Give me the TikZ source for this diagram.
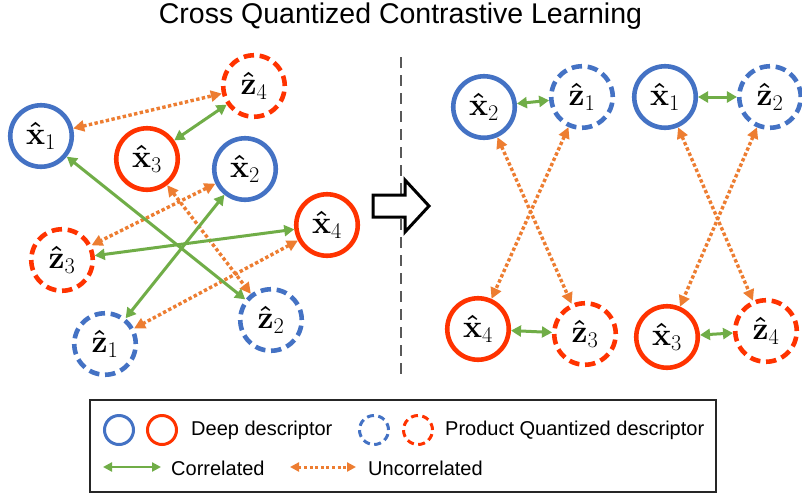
\RequirePackage{fix-cm}
\documentclass[tikz,border=0pt]{standalone}
\usepackage{amsmath}
\usepackage{fontspec}
\newfontfamily\legendfont{Liberation Sans}
\usetikzlibrary{arrows.meta}

\definecolor{deepblue}{HTML}{4472C4}
\definecolor{deepred}{HTML}{FF3300}
\definecolor{corgreen}{HTML}{70AD47}
\definecolor{uncorange}{HTML}{ED7D31}

% node labels
\newcommand\xh[1]{$\boldsymbol{\hat{\mathbf{x}}}_{#1}$}
\newcommand\zh[1]{$\boldsymbol{\hat{\mathbf{z}}}_{#1}$}

\begin{document}
\begin{tikzpicture}[x=1pt,y=-1pt,
  desc/.style={circle, draw, line width=4.6pt, minimum size=61.5pt, inner sep=0pt,
               font=\fontsize{32}{36}\selectfont},
  pq/.style={desc, dash pattern=on 10.4pt off 5.7pt},
  blu/.style={draw=deepblue},
  rd/.style={draw=deepred},
  smalldesc/.style={circle, draw, line width=3pt, minimum size=29pt, inner sep=0pt},
  smallpq/.style={smalldesc, dash pattern=on 7pt off 4.4pt},
  cor/.style={draw=corgreen, line width=3pt,
              {Triangle[length=10pt,width=11pt]}-{Triangle[length=10pt,width=11pt]}},
  unc/.style={draw=uncorange, line width=3.4pt, dash pattern=on 3.4pt off 2.4pt,
              {Triangle[length=11pt,width=11pt]}-{Triangle[length=11pt,width=11pt]}},
  legtext/.style={font=\legendfont\fontsize{20}{24}\selectfont, anchor=base west, inner sep=0pt},
]
\useasboundingbox (0,0) rectangle (802,496);
\fill[white] (0,0) rectangle (802,496);

% title
\node[font=\legendfont\fontsize{28.5}{32}\selectfont, anchor=base, inner sep=0pt]
  (title) at (400.5,23.5) {Cross Quantized Contrastive Learning};

% separator
\coordinate (sepTop) at (401,57);
\coordinate (sepBot) at (401,378);
\draw[black!65, line width=2pt, dash pattern=on 11pt off 7pt] (sepTop) -- (sepBot);

% block arrow
\draw[black, fill=white, line width=3pt, miter limit=10]
  (373,195) -- (405,195) -- (405,180) -- (429,206) -- (405,232) -- (405,217) -- (373,217) -- cycle;

% left: mixed descriptors
\node[desc, blu] (lx1) at (41,136) {\xh1};
\node[pq, rd]    (lz4) at (254,86) {\zh4};
\node[desc, rd]  (lx3) at (147,159) {\xh3};
\node[desc, blu] (lx2) at (245,169) {\xh2};
\node[desc, rd]  (lx4) at (327,225) {\xh4};
\node[pq, rd]    (lz3) at (62,260) {\zh3};
\node[pq, blu]   (lz2) at (271,320) {\zh2};
\node[pq, blu]   (lz1) at (105,344) {\zh1};

\draw[unc] (lx1) -- (lz4);
\draw[unc] (lx3) -- (lz2);
\draw[unc] (lx2) -- (lz3);
\draw[unc] (lx4) -- (lz1);
\draw[cor] (lx1) -- (lz2);
\draw[cor] (lx3) -- (lz4);
\draw[cor] (lx2) -- (lz1);
\draw[cor] (lx4) -- (lz3);

% right: regrouped pairs
\node[desc, blu] (rx2) at (484,107) {\xh2};
\node[pq, blu]   (rz1) at (582,97) {\zh1};
\node[desc, blu] (rx1) at (665,97) {\xh1};
\node[pq, blu]   (rz2) at (770,97) {\zh2};
\node[desc, rd]  (rx4) at (478,329) {\xh4};
\node[pq, rd]    (rz3) at (585,334) {\zh3};
\node[desc, rd]  (rx3) at (667,337) {\xh3};
\node[pq, rd]    (rz4) at (766,331) {\zh4};

\draw[unc] (rx2) -- (rz3);
\draw[unc] (rz1) -- (rx4);
\draw[unc] (rx1) -- (rz4);
\draw[unc] (rz2) -- (rx3);
\draw[cor] (rx2) -- (rz1);
\draw[cor] (rx1) -- (rz2);
\draw[cor] (rx4) -- (rz3);
\draw[cor] (rx3) -- (rz4);

% legend
\node[draw=black!85, line width=1.5pt, minimum width=626pt, minimum height=92pt,
      anchor=north west, inner sep=0pt] (legend) at (89,399) {};
\node[smalldesc, draw=deepblue] (kb) at (119,430) {};
\node[smalldesc, draw=deepred]  (kr) at (162,430) {};
\node[legtext] (kdeep) at (191,435.7) {Deep descriptor};
\node[smallpq, draw=deepblue] (kqb) at (374,430) {};
\node[smallpq, draw=deepred]  (kqr) at (418,430) {};
\node[legtext] (kpq) at (445,435.7) {Product Quantized descriptor};

\coordinate (kcA) at (103,467);
\coordinate (kcB) at (161,467);
\draw[cor, line width=2.6pt, {Triangle[length=9pt,width=9pt]}-{Triangle[length=9pt,width=9pt]}] (kcA) -- (kcB);
\node[legtext] (kcor) at (171,475) {Correlated};
\coordinate (kuA) at (290,467);
\coordinate (kuB) at (356,467);
\draw[unc, line width=3pt, dash pattern=on 3pt off 2.6pt,
      {Triangle[length=9pt,width=9pt]}-{Triangle[length=9pt,width=9pt]}] (kuA) -- (kuB);
\node[legtext] (kunc) at (368,475) {Uncorrelated};
\end{tikzpicture}
\end{document}
